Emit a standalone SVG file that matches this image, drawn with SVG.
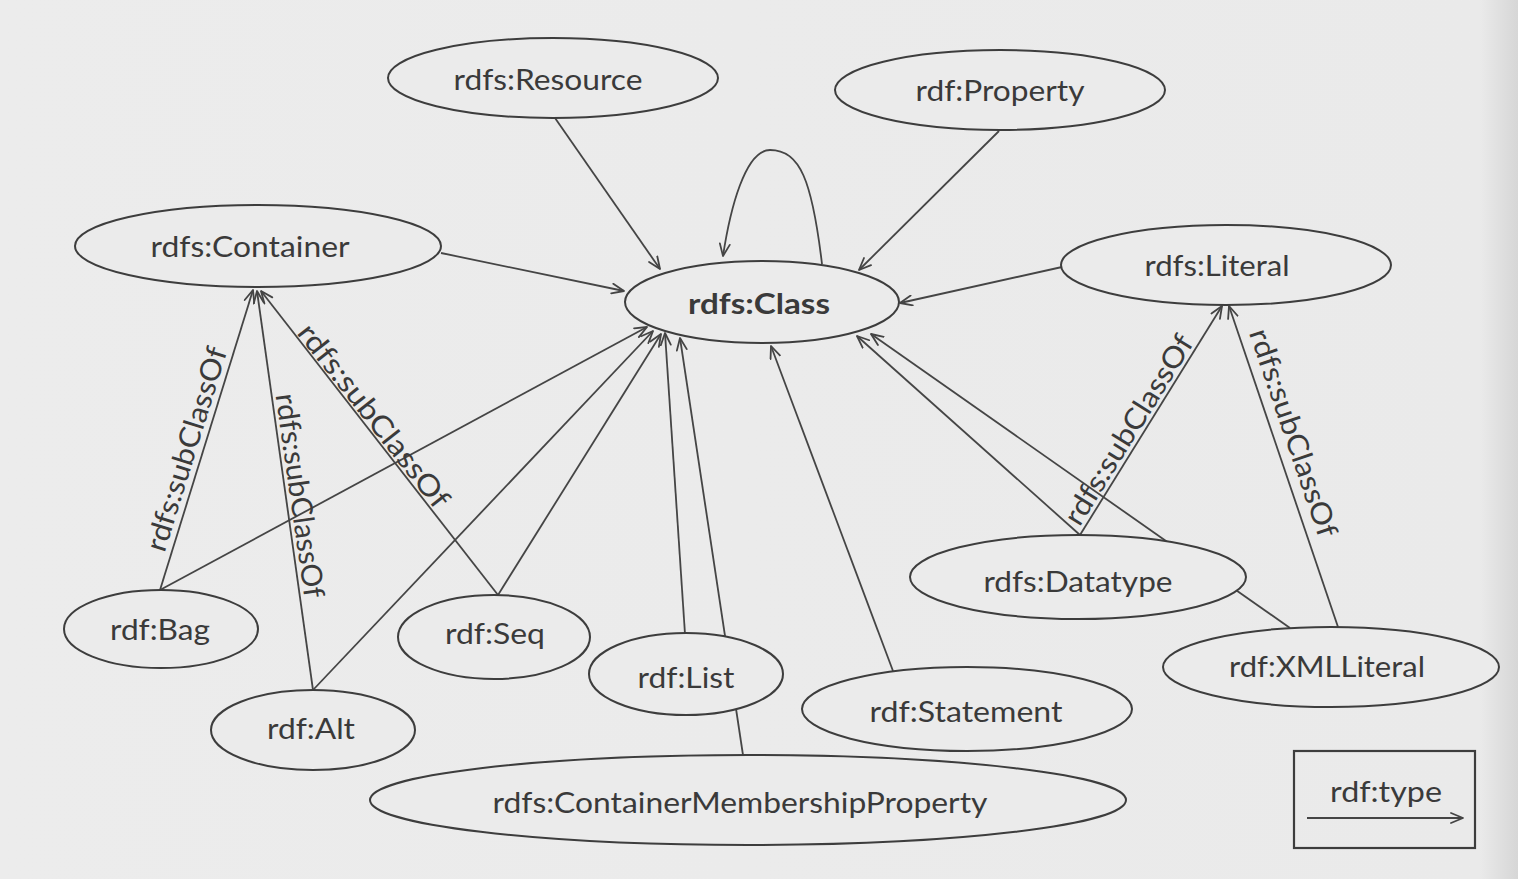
<svg xmlns="http://www.w3.org/2000/svg" width="1518" height="879" viewBox="0 0 1518 879">
  <defs>
    <linearGradient id="page" x1="0" y1="0" x2="1" y2="0">
      <stop offset="0" stop-color="#ececec"/>
      <stop offset="0.975" stop-color="#eaeaea"/>
      <stop offset="1" stop-color="#d6d6d6"/>
    </linearGradient>
    <marker id="arr" viewBox="0 0 14 12" refX="13" refY="6" markerWidth="14" markerHeight="12" orient="auto" markerUnits="userSpaceOnUse">
      <path d="M1,1 L13,6 L1,11" fill="none" stroke="#444" stroke-width="1.8" stroke-linecap="round" stroke-linejoin="round"/>
    </marker>
  </defs>
  <style>
    .node ellipse { fill: #ebebeb; stroke: #3d3d3d; stroke-width: 2; }
    .lbl { font-family: Lato, "Liberation Sans", sans-serif; font-size: 29px; fill: #3a3a3a; text-anchor: middle; }
    .bold { font-weight: bold; }
    .edges line, .edges path { stroke: #454545; stroke-width: 1.8; fill: none; marker-end: url(#arr); }
    .elbl { font-family: Lato, "Liberation Sans", sans-serif; font-size: 29px; fill: #3a3a3a; text-anchor: middle; }
  </style>
  <rect x="0" y="0" width="1518" height="879" fill="url(#page)"/>

  <g id="connectors" class="edges">
    <!-- rdf:type edges to rdfs:Class -->
    <line x1="555" y1="118" x2="660" y2="269"/>
    <line x1="999" y1="131" x2="859" y2="270"/>
    <path d="M822,264 C812,180 800,150 770,150 C745,150 730,210 723,256"/>
    <line x1="441" y1="253" x2="624" y2="291"/>
    <line x1="1062" y1="267" x2="900" y2="303"/>
    <line x1="160" y1="590" x2="647" y2="327"/>
    <line x1="313" y1="690" x2="653" y2="331"/>
    <line x1="498" y1="595" x2="661" y2="334"/>
    <line x1="685" y1="634" x2="665" y2="333"/>
    <line x1="743" y1="755" x2="680" y2="338"/>
    <line x1="893" y1="671" x2="771" y2="346"/>
    <line x1="1080" y1="535" x2="857" y2="336"/>
    <line x1="1290" y1="628" x2="871" y2="334"/>
    <!-- rdfs:subClassOf edges -->
    <line x1="160" y1="590" x2="253" y2="290"/>
    <line x1="313" y1="690" x2="257" y2="291"/>
    <line x1="498" y1="595" x2="261" y2="291"/>
    <line x1="1080" y1="535" x2="1222" y2="306"/>
    <line x1="1338" y1="627" x2="1229" y2="306"/>
  </g>

  <g id="edge-labels">
    <text class="elbl" transform="translate(196,452) rotate(-72.7)" textLength="212" lengthAdjust="spacingAndGlyphs">rdfs:subClassOf</text>
    <text class="elbl" transform="translate(290,497) rotate(81.9)" textLength="206" lengthAdjust="spacingAndGlyphs">rdfs:subClassOf</text>
    <text class="elbl" transform="translate(366,422) rotate(51.8)" textLength="226" lengthAdjust="spacingAndGlyphs">rdfs:subClassOf</text>
    <text class="elbl" transform="translate(1137,435) rotate(-58.1)" textLength="218" lengthAdjust="spacingAndGlyphs">rdfs:subClassOf</text>
    <text class="elbl" transform="translate(1284,436) rotate(71.2)" textLength="218" lengthAdjust="spacingAndGlyphs">rdfs:subClassOf</text>
  </g>

  <g id="n-resource" class="node">
    <ellipse cx="553" cy="78" rx="165" ry="40"/>
    <text class="lbl" x="548" y="90" textLength="189" lengthAdjust="spacingAndGlyphs">rdfs:Resource</text>
  </g>
  <g id="n-property" class="node">
    <ellipse cx="1000" cy="90" rx="165" ry="40"/>
    <text class="lbl" x="1000" y="101" textLength="169" lengthAdjust="spacingAndGlyphs">rdf:Property</text>
  </g>
  <g id="n-container" class="node">
    <ellipse cx="258" cy="246" rx="183" ry="41"/>
    <text class="lbl" x="250" y="257" textLength="199" lengthAdjust="spacingAndGlyphs">rdfs:Container</text>
  </g>
  <g id="n-class" class="node">
    <ellipse cx="762" cy="302" rx="137" ry="41"/>
    <text class="lbl bold" x="759" y="314" textLength="142" lengthAdjust="spacingAndGlyphs">rdfs:Class</text>
  </g>
  <g id="n-literal" class="node">
    <ellipse cx="1226" cy="265" rx="165" ry="40"/>
    <text class="lbl" x="1217" y="276" textLength="145" lengthAdjust="spacingAndGlyphs">rdfs:Literal</text>
  </g>
  <g id="n-bag" class="node">
    <ellipse cx="161" cy="629" rx="97" ry="39"/>
    <text class="lbl" x="160" y="640" textLength="100" lengthAdjust="spacingAndGlyphs">rdf:Bag</text>
  </g>
  <g id="n-seq" class="node">
    <ellipse cx="494" cy="637" rx="96" ry="42"/>
    <text class="lbl" x="495" y="644" textLength="100" lengthAdjust="spacingAndGlyphs">rdf:Seq</text>
  </g>
  <g id="n-list" class="node">
    <ellipse cx="686" cy="674" rx="97" ry="41"/>
    <text class="lbl" x="686" y="688" textLength="97" lengthAdjust="spacingAndGlyphs">rdf:List</text>
  </g>
  <g id="n-alt" class="node">
    <ellipse cx="313" cy="730" rx="102" ry="40"/>
    <text class="lbl" x="311" y="739" textLength="88" lengthAdjust="spacingAndGlyphs">rdf:Alt</text>
  </g>
  <g id="n-datatype" class="node">
    <ellipse cx="1078" cy="577" rx="168" ry="42"/>
    <text class="lbl" x="1078" y="592" textLength="189" lengthAdjust="spacingAndGlyphs">rdfs:Datatype</text>
  </g>
  <g id="n-xmlliteral" class="node">
    <ellipse cx="1331" cy="667" rx="168" ry="40"/>
    <text class="lbl" x="1327" y="677" textLength="196" lengthAdjust="spacingAndGlyphs">rdf:XMLLiteral</text>
  </g>
  <g id="n-statement" class="node">
    <ellipse cx="967" cy="709" rx="165" ry="42"/>
    <text class="lbl" x="966" y="722" textLength="193" lengthAdjust="spacingAndGlyphs">rdf:Statement</text>
  </g>
  <g id="n-cmp" class="node">
    <ellipse cx="748" cy="800" rx="378" ry="45"/>
    <text class="lbl" x="740" y="813" textLength="495" lengthAdjust="spacingAndGlyphs">rdfs:ContainerMembershipProperty</text>
  </g>

  <g id="legend">
    <rect x="1294" y="751" width="181" height="97" fill="none" stroke="#3d3d3d" stroke-width="2.2"/>
    <text class="lbl" x="1386" y="802" textLength="112" lengthAdjust="spacingAndGlyphs">rdf:type</text>
    <line x1="1307" y1="818" x2="1463" y2="818" stroke="#454545" stroke-width="1.8" marker-end="url(#arr)"/>
  </g>
</svg>
